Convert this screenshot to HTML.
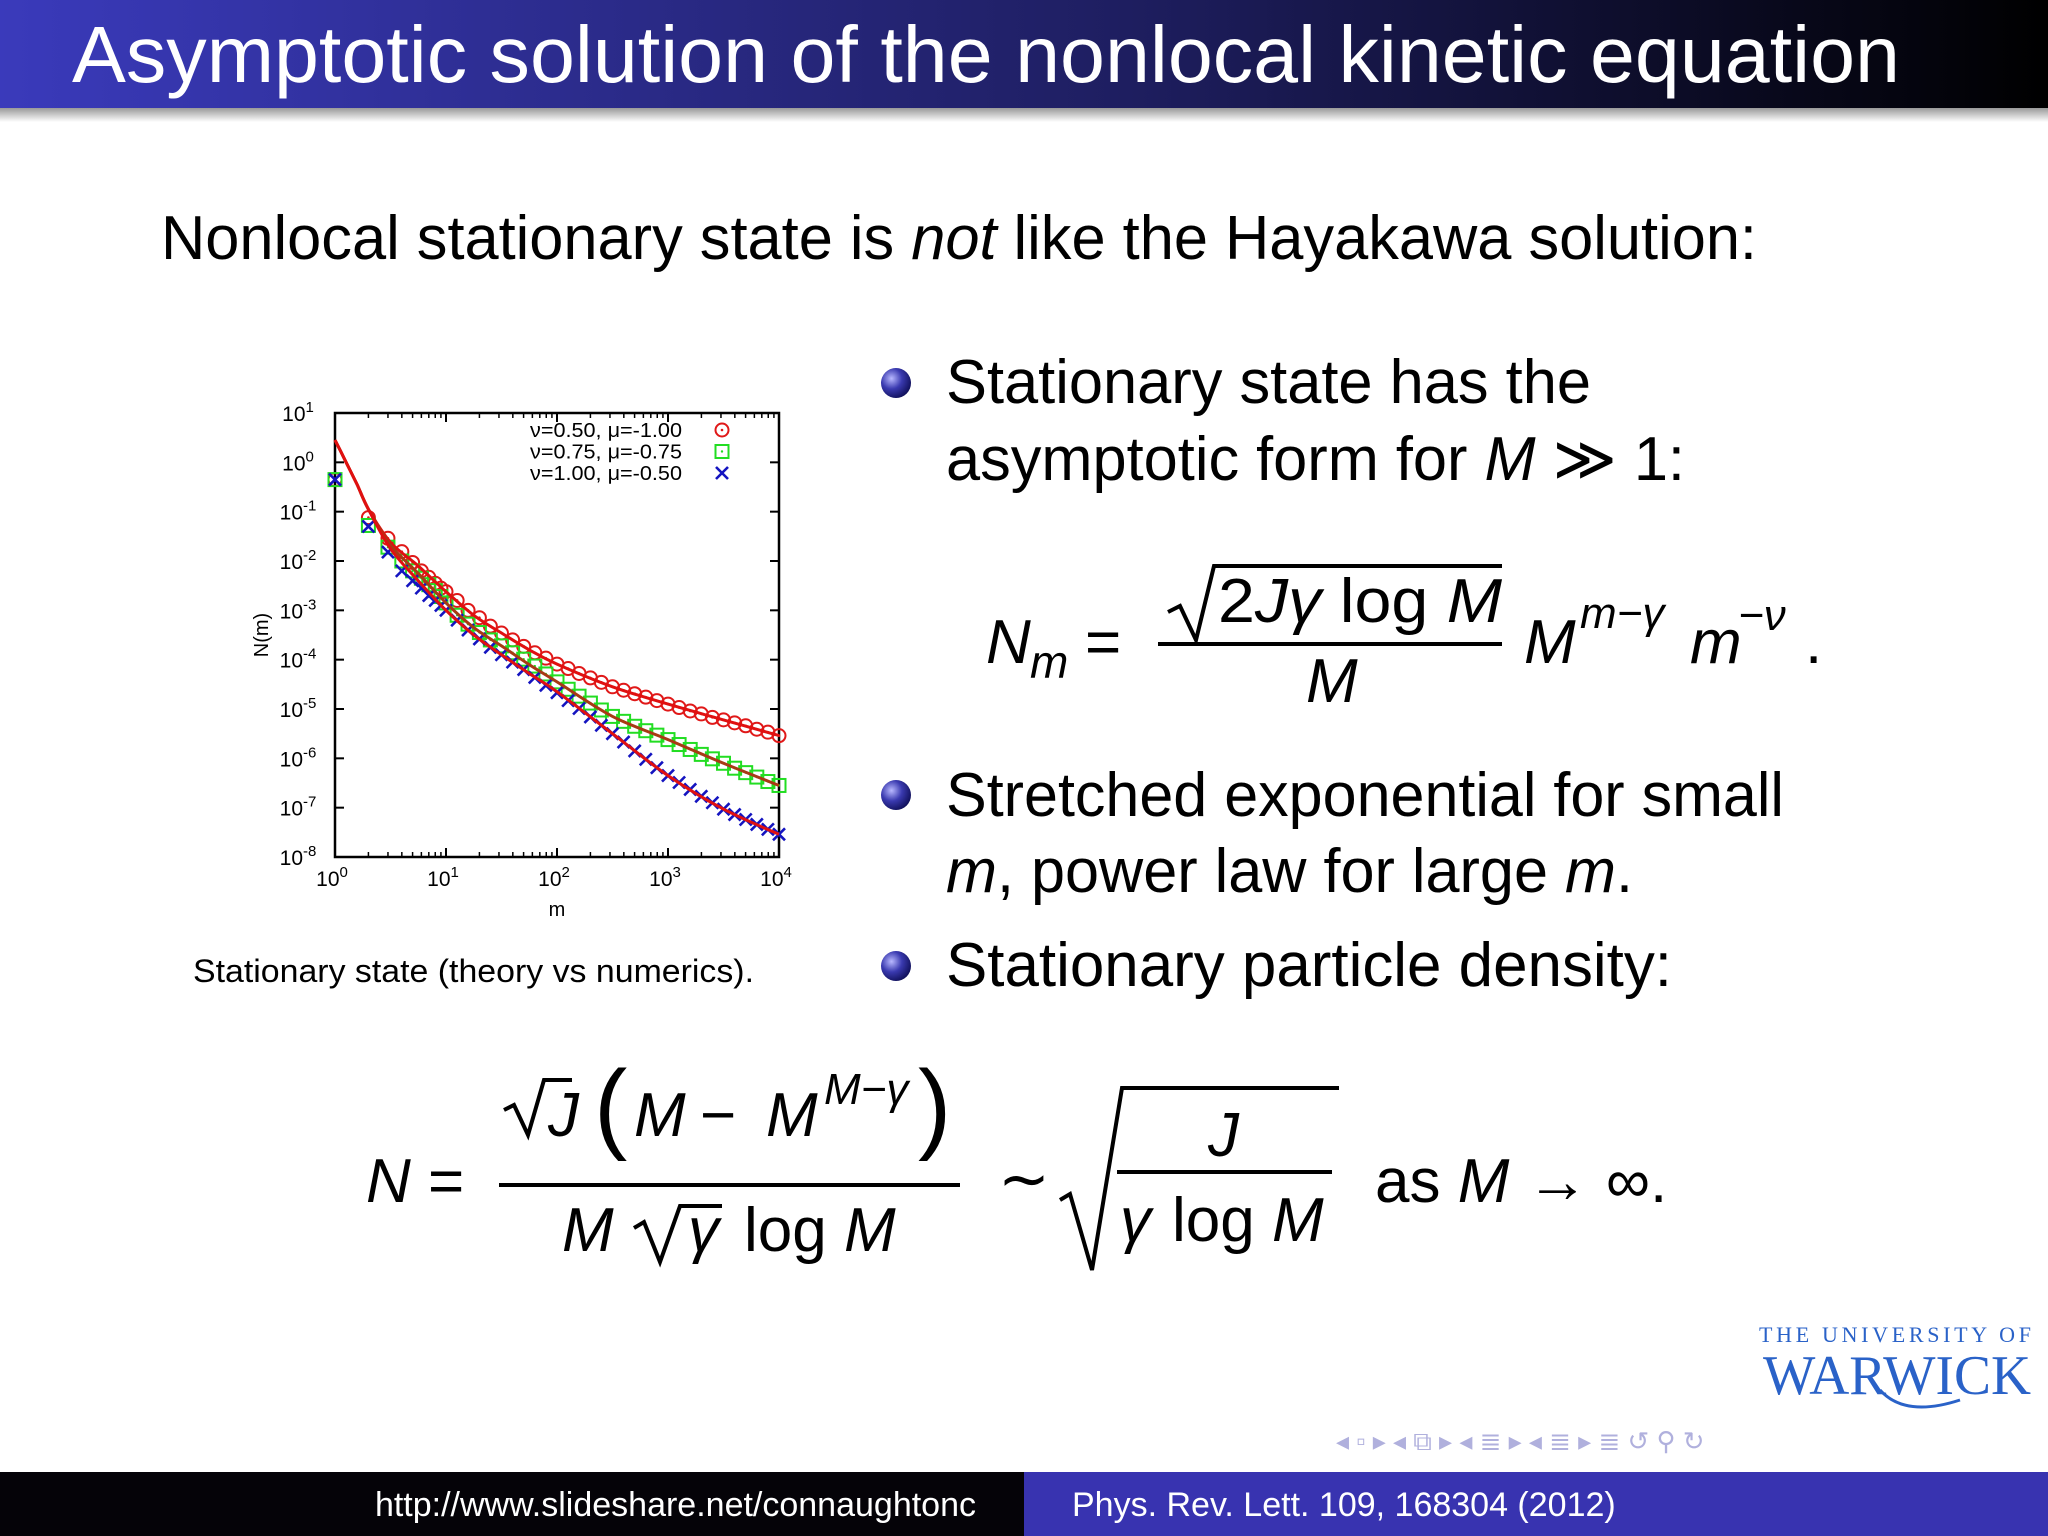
<!DOCTYPE html>
<html><head><meta charset="utf-8"><style>
html,body{margin:0;padding:0;background:#fff;}
body{width:2048px;height:1536px;overflow:hidden;position:relative;font-family:"Liberation Sans",sans-serif;}
svg{position:absolute;left:0;top:0;}
</style></head><body>
<svg id="slide" width="2048" height="1536" viewBox="0 0 2048 1536" font-family="Liberation Sans, sans-serif">
<defs>
<linearGradient id="tg" x1="0" x2="1" y1="0" y2="0"><stop offset="0" stop-color="#3a3abb"/><stop offset="0.55" stop-color="#1e1e60"/><stop offset="1" stop-color="#000"/></linearGradient>
<linearGradient id="sh" x1="0" x2="0" y1="0" y2="1"><stop offset="0" stop-color="#999"/><stop offset="1" stop-color="#fff"/></linearGradient>
<radialGradient id="ball" cx="0.35" cy="0.35" r="0.7"><stop offset="0" stop-color="#b8b8ff"/><stop offset="0.5" stop-color="#3a3ab0"/><stop offset="1" stop-color="#10105a"/></radialGradient>
</defs>
<g>
<rect x="0" y="0" width="2048" height="108" fill="url(#tg)"/>
<rect x="0" y="108" width="2048" height="14" fill="url(#sh)"/>
<text x="72" y="82" font-size="80" fill="#fff" textLength="1828" lengthAdjust="spacingAndGlyphs">Asymptotic solution of the nonlocal kinetic equation</text>
</g>
<text x="161" y="259" font-size="62" fill="#000" textLength="1596" lengthAdjust="spacingAndGlyphs">Nonlocal stationary state is <tspan font-style="italic">not</tspan> like the Hayakawa solution:</text>

<circle cx="896" cy="383" r="15" fill="url(#ball)"/>
<text x="946" y="403" font-size="62" textLength="645" lengthAdjust="spacingAndGlyphs">Stationary state has the</text>
<text x="946" y="480" font-size="62" textLength="739" lengthAdjust="spacingAndGlyphs">asymptotic form for <tspan font-style="italic">M</tspan> ≫ 1:</text>

<g font-size="62">
<text x="986" y="663" font-style="italic">N</text><text x="1030" y="678" font-size="46" font-style="italic">m</text>
<text x="1085" y="663">=</text>
<path d="M1168 612 L1180 606 L1196 640 L1214 566 L1502 566" fill="none" stroke="#000" stroke-width="4"/>
<text x="1218" y="622" textLength="284" lengthAdjust="spacingAndGlyphs">2<tspan font-style="italic">Jγ</tspan> log <tspan font-style="italic">M</tspan></text>
<rect x="1158" y="642" width="344" height="4" fill="#000"/>
<text x="1306" y="702" font-style="italic">M</text>
<text x="1524" y="663" font-style="italic">M</text><text x="1580" y="628" font-size="44" font-style="italic">m<tspan>−γ</tspan></text>
<text x="1690" y="663" font-style="italic">m</text><text x="1738" y="630" font-size="44" font-style="italic">−ν</text>
<text x="1805" y="663">.</text>
</g>

<circle cx="896" cy="795" r="15" fill="url(#ball)"/>
<text x="946" y="816" font-size="62" textLength="838" lengthAdjust="spacingAndGlyphs">Stretched exponential for small</text>
<text x="946" y="892" font-size="62" textLength="687" lengthAdjust="spacingAndGlyphs"><tspan font-style="italic">m</tspan>, power law for large <tspan font-style="italic">m</tspan>.</text>
<circle cx="896" cy="966" r="15" fill="url(#ball)"/>
<text x="946" y="986" font-size="62" textLength="726" lengthAdjust="spacingAndGlyphs">Stationary particle density:</text>

<text x="193" y="982" font-size="32" textLength="561" lengthAdjust="spacingAndGlyphs">Stationary state (theory vs numerics).</text>

<g font-size="62">
<text x="366" y="1202" font-style="italic">N</text>
<text x="428" y="1202">=</text>
<path d="M504 1110 L514 1105 L528 1135 L544 1080 L572 1080" fill="none" stroke="#000" stroke-width="4"/>
<text x="548" y="1136" font-style="italic">J</text>
<text x="594" y="1140" font-size="100" font-weight="100">(</text>
<text x="634" y="1136" font-style="italic">M</text>
<text x="700" y="1136">−</text>
<text x="766" y="1136" font-style="italic">M</text>
<text x="824" y="1104" font-size="44" font-style="italic">M−γ</text>
<text x="918" y="1140" font-size="100" font-weight="100">)</text>
<rect x="499" y="1183" width="461" height="4" fill="#000"/>
<text x="562" y="1251" font-style="italic">M</text>
<path d="M634 1228 L644 1222 L660 1262 L680 1206 L722 1206" fill="none" stroke="#000" stroke-width="4"/>
<text x="688" y="1251" font-style="italic">γ</text>
<text x="744" y="1251">log <tspan font-style="italic">M</tspan></text>
<text x="998" y="1200">∼</text>
<path d="M1060 1200 L1070 1194 L1092 1270 L1122 1088 L1339 1088" fill="none" stroke="#000" stroke-width="4"/>
<text x="1208" y="1156" font-style="italic">J</text>
<rect x="1117" y="1170" width="215" height="4" fill="#000"/>
<text x="1120" y="1241" font-style="italic">γ</text>
<text x="1172" y="1241">log <tspan font-style="italic">M</tspan></text>
<text x="1375" y="1202">as <tspan font-style="italic">M</tspan> → ∞.</text>
</g>

<g fill="#2a62c8">
<text x="1759" y="1342" font-family="Liberation Serif, serif" font-size="22" textLength="272" lengthAdjust="spacing">THE UNIVERSITY OF</text>
<text x="1763" y="1394" font-family="Liberation Serif, serif" font-size="56" textLength="268" lengthAdjust="spacingAndGlyphs">WARWICK</text>
<path d="M1880 1390 Q1905 1418 1960 1400" fill="none" stroke="#2a62c8" stroke-width="3"/>
</g>
<g fill="#b0b0dd" font-size="26">
<text x="1336" y="1450">◂ ▫ ▸  ◂ ⧉ ▸  ◂ ≣ ▸  ◂ ≣ ▸   ≣   ↺ ⚲ ↻</text>
</g>

<g>
<rect x="0" y="1472" width="1024" height="64" fill="#050308"/>
<rect x="1024" y="1472" width="1024" height="64" fill="#3833b0"/>
<text x="976" y="1516" font-size="34" fill="#fff" text-anchor="end">http://www.slideshare.net/connaughtonc</text>
<text x="1072" y="1516" font-size="34" fill="#fff">Phys. Rev. Lett. 109, 168304 (2012)</text>
</g>

<g id="chart"></g>
</svg>
<script>
const mVals = [1,2,3,4,5,6,7,8,9,10,12.6,15.8,20,25.1,31.6,39.8,50.1,63.1,79.4,100,126,158,200,251,316,398,501,631,794,1000,1259,1585,1995,2512,3162,3981,5012,6310,7943,10000];
const redLog10 = [-0.35,-1.12,-1.54,-1.81,-2.03,-2.2,-2.33,-2.45,-2.55,-2.62,-2.80,-3.0,-3.15,-3.32,-3.46,-3.6,-3.73,-3.86,-3.97,-4.09,-4.18,-4.28,-4.37,-4.46,-4.55,-4.62,-4.69,-4.76,-4.83,-4.90,-4.97,-5.04,-5.10,-5.17,-5.22,-5.28,-5.34,-5.41,-5.47,-5.54];
const greenLog10 = [-0.35,-1.28,-1.72,-2.0,-2.2,-2.35,-2.48,-2.6,-2.72,-2.85,-3.1,-3.28,-3.45,-3.6,-3.72,-3.86,-3.99,-4.13,-4.29,-4.45,-4.6,-4.74,-4.88,-5.02,-5.15,-5.25,-5.35,-5.44,-5.53,-5.62,-5.72,-5.82,-5.92,-6.01,-6.1,-6.2,-6.29,-6.38,-6.47,-6.55];
const blueLog10 = [-0.35,-1.3,-1.82,-2.2,-2.4,-2.55,-2.7,-2.8,-2.9,-3.0,-3.2,-3.4,-3.58,-3.75,-3.9,-4.05,-4.2,-4.36,-4.52,-4.67,-4.83,-4.99,-5.16,-5.33,-5.5,-5.67,-5.85,-6.02,-6.19,-6.35,-6.49,-6.63,-6.77,-6.9,-7.03,-7.14,-7.24,-7.34,-7.44,-7.54];
const theoryM = [1,1.26,1.58,2,3.16,5.62,10,17.8,31.6,56.2,100,316,1000,3162,10000];
const theoryRedLog10 = [0.45,0.0,-0.45,-0.95,-1.62,-2.1,-2.62,-3.1,-3.46,-3.8,-4.09,-4.55,-4.90,-5.22,-5.54];
const theoryGreenLog10 = [0.45,0.0,-0.45,-0.95,-1.68,-2.25,-2.85,-3.35,-3.72,-4.1,-4.45,-5.15,-5.62,-6.1,-6.55];
const theoryBlueLog10 = [0.45,0.0,-0.45,-0.95,-1.75,-2.4,-3.0,-3.5,-3.9,-4.28,-4.65,-5.5,-6.35,-7.03,-7.54];
const xTickExps = [0,1,2,3,4];
const yTickExps = [1,0,-1,-2,-3,-4,-5,-6,-7,-8];
const legendLabels = ["ν=0.50, μ=-1.00","ν=0.75, μ=-0.75","ν=1.00, μ=-0.50"];

const NS='http://www.w3.org/2000/svg';
const L=335,R=779,T=413,B=857;
const xAx = m => L + (Math.log10(m)-0)/4*(R-L);
const yAx = lg => T + (1-lg)/9*(B-T);
const g=document.getElementById('chart');
function mk(tag,attrs,parent){const e=document.createElementNS(NS,tag);for(const k in attrs)e.setAttribute(k,attrs[k]);(parent||g).appendChild(e);return e;}

const frame=mk('rect',{x:L,y:T,width:R-L,height:B-T,fill:'none',stroke:'#000','stroke-width':2.5});



xTickExps.forEach(e=>{
  const x=xAx(Math.pow(10,e));
  mk('line',{x1:x,x2:x,y1:B,y2:B-9,stroke:'#000','stroke-width':2});
  mk('line',{x1:x,x2:x,y1:T,y2:T+9,stroke:'#000','stroke-width':2});
  if(e<4){for(let k=2;k<10;k++){const xm=xAx(k*Math.pow(10,e));
    mk('line',{x1:xm,x2:xm,y1:B,y2:B-5,stroke:'#000','stroke-width':1.5});
    mk('line',{x1:xm,x2:xm,y1:T,y2:T+5,stroke:'#000','stroke-width':1.5});}}
  const t=mk('text',{x:x-3,y:B+29,'font-size':21,'text-anchor':'middle'});
  
  
  t.textContent='10';
  const s=mk('tspan',{dy:-9,'font-size':15},t);s.textContent=String(e);
});
yTickExps.forEach(e=>{
  const y=yAx(e);
  mk('line',{x1:L,x2:L+9,y1:y,y2:y,stroke:'#000','stroke-width':2});
  mk('line',{x1:R,x2:R-9,y1:y,y2:y,stroke:'#000','stroke-width':2});
  const t=mk('text',{x:L-37,y:y+8,'font-size':21,'text-anchor':'middle'});
  
  
  t.textContent='10';
  const s=mk('tspan',{dy:-9,'font-size':15},t);s.textContent=String(e);
});
const xt=mk('text',{x:(L+R)/2,y:916,'font-size':20,'text-anchor':'middle'});


xt.textContent='m';
const yt=mk('text',{x:268,y:(T+B)/2,'font-size':20,'text-anchor':'middle',transform:`rotate(-90 268 ${(T+B)/2})`});


yt.textContent='N(m)';

function theoryPath(vals,color,name){
  const pts=theoryM.map((m,i)=>[xAx(m),yAx(vals[i])]);
  let d='M'+pts[0][0].toFixed(1)+' '+pts[0][1].toFixed(1);
  for(let i=0;i<pts.length-1;i++){
    const p0=pts[Math.max(0,i-1)],p1=pts[i],p2=pts[i+1],p3=pts[Math.min(pts.length-1,i+2)];
    const c1=[p1[0]+(p2[0]-p0[0])/6,p1[1]+(p2[1]-p0[1])/6];
    const c2=[p2[0]-(p3[0]-p1[0])/6,p2[1]-(p3[1]-p1[1])/6];
    d+=` C${c1[0].toFixed(1)} ${c1[1].toFixed(1)} ${c2[0].toFixed(1)} ${c2[1].toFixed(1)} ${p2[0].toFixed(1)} ${p2[1].toFixed(1)}`;
  }
  const p=mk('path',{d:d,fill:'none',stroke:color,'stroke-width':3});
  
  
}
function marker(type,x,y,parent){
  if(type==='circle'){mk('circle',{cx:x,cy:y,r:6.5,fill:'none',stroke:'#e01818','stroke-width':2},parent);mk('circle',{cx:x,cy:y,r:1.3,fill:'#e01818'},parent);}
  else if(type==='square'){mk('rect',{x:x-6.5,y:y-6.5,width:13,height:13,fill:'none',stroke:'#22dd22','stroke-width':2},parent);mk('circle',{cx:x,cy:y,r:1.2,fill:'#22dd22'},parent);}
  else{mk('path',{d:`M${x-6} ${y-6}L${x+6} ${y+6}M${x-6} ${y+6}L${x+6} ${y-6}`,stroke:'#1414c0','stroke-width':2.6},parent);}
}
function series(vals,type,name){
  const grp=mk('g',{});
  
  
  vals.forEach((v,i)=>marker(type,xAx(mVals[i]),yAx(v),grp));
}
series(redLog10,'circle','series-nu050');
series(greenLog10,'square','series-nu075');
series(blueLog10,'cross','series-nu100');
theoryPath(theoryRedLog10,'#e01010','theory-line-nu050');
theoryPath(theoryGreenLog10,'#a83a14','theory-line-nu075');
theoryPath(theoryBlueLog10,'#e01010','theory-line-nu100');

const lg=mk('g',{});


['circle','square','cross'].forEach((tp,i)=>{
  const y=430+i*21.5;
  const t=mk('text',{x:682,y:y+7,'font-size':20,'text-anchor':'end',textLength:152,lengthAdjust:'spacingAndGlyphs'},lg);
  
  
  t.textContent=legendLabels[i];
  marker(tp,722,y,lg);
});
</script>
</body></html>
